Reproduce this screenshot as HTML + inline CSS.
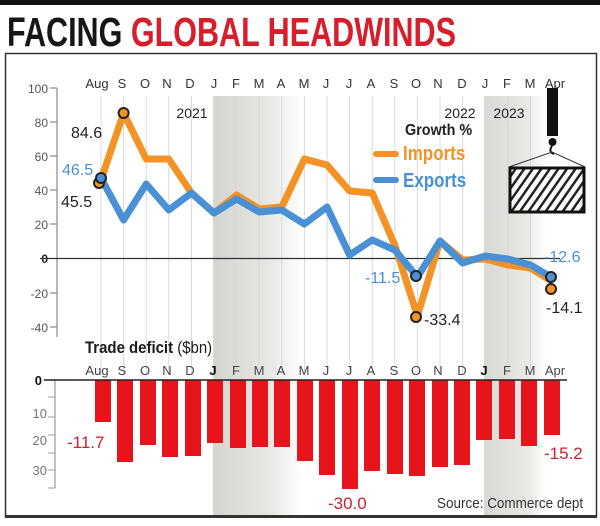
<!DOCTYPE html>
<html><head><meta charset="utf-8"><style>
html,body{margin:0;padding:0;background:#fff;width:600px;height:526px;overflow:hidden}
svg{display:block}
text{font-family:"Liberation Sans",sans-serif}
</style></head><body>
<svg width="600" height="526" viewBox="0 0 600 526">
<defs>
<linearGradient id="sh1" x1="0" x2="1" y1="0" y2="0"><stop offset="0" stop-color="#d4d4d0"/><stop offset="0.6" stop-color="#e6e6e2"/><stop offset="1" stop-color="#fff"/></linearGradient>
<linearGradient id="sh2" x1="0" x2="1" y1="0" y2="0"><stop offset="0" stop-color="#d8d8d4"/><stop offset="0.7" stop-color="#e8e8e4"/><stop offset="1" stop-color="#fff"/></linearGradient>
<pattern id="hatch" width="7" height="7" patternUnits="userSpaceOnUse" patternTransform="rotate(35)"><rect width="7" height="7" fill="#fff"/><rect width="2.5" height="7" fill="#222"/></pattern>
</defs>
<rect x="0" y="0" width="600" height="5" fill="#111"/>
<text x="7" y="46" font-size="41" font-weight="bold" fill="#161616" transform="translate(7 0) scale(0.745,1) translate(-7 0)">FACING <tspan fill="#d71e2a">GLOBAL HEADWINDS</tspan></text>
<rect x="5.5" y="53.5" width="591" height="463" fill="none" stroke="#333" stroke-width="1.5"/>
<rect x="5" y="515" width="592" height="3" fill="#333"/>
<!-- shading -->
<rect x="213" y="96" width="90" height="419" fill="url(#sh1)"/>
<rect x="484" y="96" width="62" height="419" fill="url(#sh2)"/>
<g stroke="#d8d8d8" stroke-width="1">
<line x1="101" y1="96" x2="101" y2="375"/><line x1="123.6" y1="96" x2="123.6" y2="375"/><line x1="146.2" y1="96" x2="146.2" y2="375"/><line x1="168.8" y1="96" x2="168.8" y2="375"/><line x1="191.4" y1="96" x2="191.4" y2="375"/><line x1="214" y1="96" x2="214" y2="375"/><line x1="236.6" y1="96" x2="236.6" y2="375"/><line x1="259.2" y1="96" x2="259.2" y2="375"/><line x1="281.8" y1="96" x2="281.8" y2="375"/><line x1="304.4" y1="96" x2="304.4" y2="375"/><line x1="327" y1="96" x2="327" y2="375"/><line x1="349.6" y1="96" x2="349.6" y2="375"/><line x1="372.2" y1="96" x2="372.2" y2="375"/><line x1="394.8" y1="96" x2="394.8" y2="375"/><line x1="417.4" y1="96" x2="417.4" y2="375"/><line x1="440" y1="96" x2="440" y2="375"/><line x1="462.6" y1="96" x2="462.6" y2="375"/><line x1="485.2" y1="96" x2="485.2" y2="375"/><line x1="507.8" y1="96" x2="507.8" y2="375"/><line x1="530.4" y1="96" x2="530.4" y2="375"/>
</g>
<g font-size="13" fill="#333" text-anchor="middle">
<text x="97" y="88">Aug</text><text x="122" y="88">S</text><text x="145" y="88">O</text><text x="167" y="88">N</text><text x="190" y="88">D</text><text x="214" y="88">J</text><text x="236" y="88">F</text><text x="259" y="88">M</text><text x="281" y="88">A</text><text x="304" y="88">M</text><text x="326" y="88">J</text><text x="349" y="88">J</text><text x="371" y="88">A</text><text x="394" y="88">S</text><text x="416" y="88">O</text><text x="438" y="88">N</text><text x="462" y="88">D</text><text x="485" y="88">J</text><text x="507" y="88">F</text><text x="530" y="88">M</text><text x="555" y="88">Apr</text>
</g>
<g font-size="14" fill="#222" text-anchor="middle"><text x="192" y="118">2021</text><text x="460" y="118">2022</text><text x="509" y="118">2023</text></g>
<line x1="57" y1="88" x2="57" y2="337" stroke="#888" stroke-width="1.2"/>
<g stroke="#888" stroke-width="1.2"><line x1="50" y1="88" x2="57" y2="88"/><line x1="50" y1="122" x2="57" y2="122"/><line x1="50" y1="156" x2="57" y2="156"/><line x1="50" y1="190" x2="57" y2="190"/><line x1="50" y1="224" x2="57" y2="224"/><line x1="50" y1="293" x2="57" y2="293"/><line x1="50" y1="327" x2="57" y2="327"/></g>
<g font-size="12" fill="#555" text-anchor="end"><text x="48" y="93">100</text><text x="48" y="127">80</text><text x="48" y="161">60</text><text x="48" y="195">40</text><text x="48" y="229">20</text><text x="48" y="263" font-weight="bold" fill="#222">0</text><text x="48" y="298">-20</text><text x="48" y="332">-40</text></g>
<line x1="40" y1="258.5" x2="560" y2="258.5" stroke="#333" stroke-width="1.2"/>
<polyline fill="none" stroke="#f39325" stroke-width="7" stroke-linejoin="round" points="101,180 123.6,113 146.2,159 168.8,159 191.4,193 214,213 236.6,195 259.2,209 281.8,207 304.4,159 327,165 349.6,191 372.2,193 394.8,245 417.4,316 440,241 462.6,260 485.2,259 507.8,265 530.4,268 553,282"/>
<polyline fill="none" stroke="#4a90d4" stroke-width="7" stroke-linejoin="round" points="101,178 123.6,220 146.2,184 168.8,210 191.4,193 214,213 236.6,199 259.2,212 281.8,210 304.4,224 327,207 349.6,255 372.2,240 394.8,250 417.4,277 440,241 462.6,263 485.2,256 507.8,259 530.4,265 553,278"/>
<g stroke="#222" stroke-width="2"><circle cx="123.6" cy="113" r="5" fill="#f39325"/><circle cx="99" cy="183" r="5" fill="#f39325"/><circle cx="101" cy="178" r="5" fill="#4a90d4"/><circle cx="416" cy="317" r="5" fill="#f39325"/><circle cx="416" cy="276" r="5" fill="#4a90d4"/><circle cx="551" cy="289" r="5" fill="#f39325"/><circle cx="551" cy="277" r="5" fill="#4a90d4"/></g>
<g font-size="16"><text x="71" y="138" fill="#222">84.6</text><text x="62" y="175" fill="#4a90d4">46.5</text><text x="61" y="207" fill="#222">45.5</text><text x="365" y="283" fill="#4a90d4">-11.5</text><text x="424" y="325" fill="#222">-33.4</text><text x="544" y="262" fill="#4a90d4">-12.6</text><text x="546" y="313" fill="#222">-14.1</text></g>
<text x="405" y="135" font-size="16" font-weight="bold" fill="#222" transform="translate(405 0) scale(0.9 1) translate(-405 0)">Growth %</text>
<line x1="376" y1="154" x2="396" y2="154" stroke="#f39325" stroke-width="6" stroke-linecap="round"/>
<line x1="376" y1="180" x2="396" y2="180" stroke="#4a90d4" stroke-width="6" stroke-linecap="round"/>
<text x="403" y="160" font-size="20" font-weight="bold" fill="#f39325" transform="translate(403 0) scale(0.85 1) translate(-403 0)">Imports</text>
<text x="403" y="187" font-size="20" font-weight="bold" fill="#4a90d4" transform="translate(403 0) scale(0.85 1) translate(-403 0)">Exports</text>
<rect x="547" y="88" width="11" height="48" fill="#111"/>
<circle cx="552.5" cy="142" r="4" fill="#111"/>
<path d="M552 146 q-4 6 2 8" fill="none" stroke="#111" stroke-width="2"/>
<path d="M509 167 L552 152 L585 167" fill="none" stroke="#333" stroke-width="1"/>
<rect x="510" y="168" width="74" height="44" fill="url(#hatch)" stroke="#111" stroke-width="3"/>
<!-- trade deficit -->
<text x="85" y="353" font-size="17" font-weight="bold" fill="#1a1a1a" transform="translate(85 0) scale(0.88 1) translate(-85 0)">Trade deficit <tspan font-weight="normal">($bn)</tspan></text>
<g font-size="13" fill="#444" text-anchor="middle">
<text x="97" y="375">Aug</text><text x="122" y="375">S</text><text x="145" y="375">O</text><text x="167" y="375">N</text><text x="190" y="375">D</text><text x="213" y="375" font-weight="bold" fill="#111">J</text><text x="236" y="375">F</text><text x="259" y="375">M</text><text x="281" y="375">A</text><text x="304" y="375">M</text><text x="326" y="375">J</text><text x="349" y="375">J</text><text x="371" y="375">A</text><text x="394" y="375">S</text><text x="416" y="375">O</text><text x="438" y="375">N</text><text x="462" y="375">D</text><text x="484" y="375" font-weight="bold" fill="#111">J</text><text x="507" y="375">F</text><text x="530" y="375">M</text><text x="555" y="375">Apr</text>
</g>
<line x1="55" y1="380" x2="55" y2="488" stroke="#999" stroke-width="1.2"/>
<g stroke="#999"><line x1="48" y1="397" x2="55" y2="397"/><line x1="48" y1="417" x2="55" y2="417"/><line x1="48" y1="435" x2="55" y2="435"/><line x1="48" y1="453" x2="55" y2="453"/><line x1="48" y1="470" x2="55" y2="470"/><line x1="48" y1="488" x2="55" y2="488"/></g>
<g font-size="13" fill="#777" text-anchor="end"><text x="47" y="418">10</text><text x="47" y="445">20</text><text x="47" y="475">30</text><text x="42" y="385" font-weight="bold" fill="#111">0</text></g>
<g fill="#e8141c">
<rect x="95" y="380" width="16" height="42"/><rect x="117" y="380" width="16" height="82"/><rect x="140" y="380" width="16" height="65"/><rect x="162" y="380" width="16" height="77"/><rect x="185" y="380" width="16" height="76"/><rect x="207" y="380" width="16" height="63"/><rect x="230" y="380" width="16" height="68"/><rect x="252" y="380" width="16" height="67"/><rect x="274" y="380" width="16" height="67"/><rect x="297" y="380" width="16" height="81"/><rect x="319" y="380" width="16" height="95"/><rect x="342" y="380" width="16" height="109"/><rect x="364" y="380" width="16" height="91"/><rect x="387" y="380" width="16" height="94"/><rect x="409" y="380" width="16" height="96"/><rect x="432" y="380" width="16" height="87"/><rect x="454" y="380" width="16" height="85"/><rect x="476" y="380" width="16" height="60"/><rect x="499" y="380" width="16" height="59"/><rect x="521" y="380" width="16" height="66"/><rect x="544" y="380" width="16" height="55"/>
</g>
<line x1="44" y1="380" x2="567" y2="380" stroke="#222" stroke-width="1.5"/>
<g font-size="17" fill="#d0202c"><text x="67" y="448">-11.7</text><text x="544" y="459">-15.2</text><text x="328" y="509">-30.0</text></g>
<text x="437" y="508" font-size="15" fill="#333" transform="translate(437 0) scale(0.9 1) translate(-437 0)">Source: Commerce dept</text>
</svg>
</body></html>
